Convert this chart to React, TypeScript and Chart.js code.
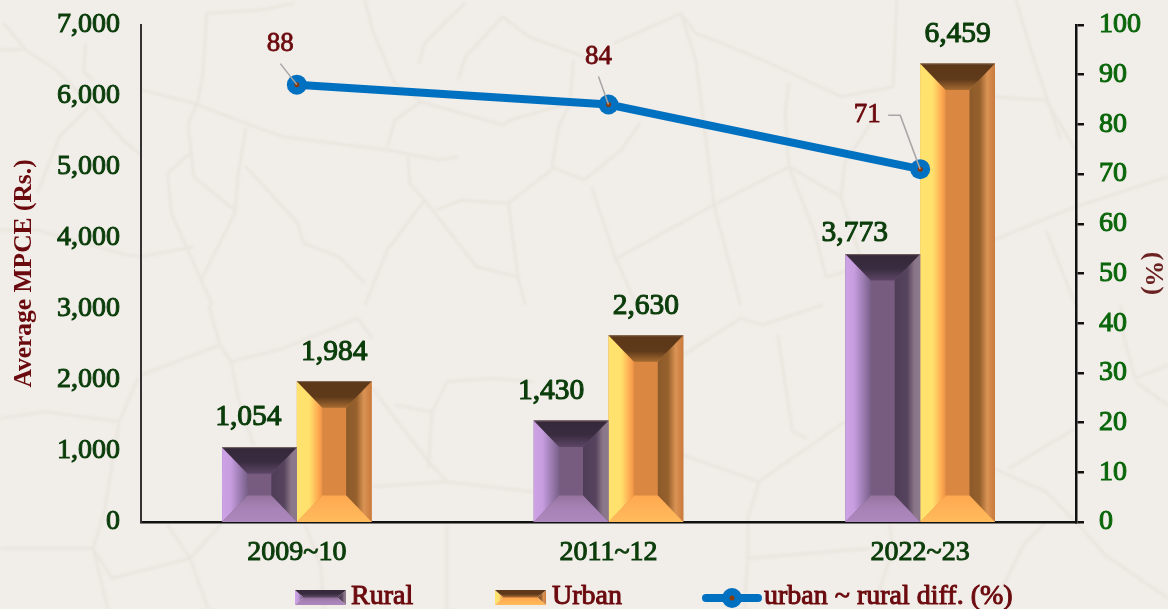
import React, { useEffect, useRef } from "react";
import { Chart, registerables } from "chart.js";

Chart.register(...registerables);

const categories = ["2009~10", "2011~12", "2022~23"];
const rural = [1054, 1430, 3773];
const urban = [1984, 2630, 6459];
const diff = [88, 84, 71];
const seriesNames = ["Rural", "Urban", "urban ~ rural diff. (%)"];

const FONT = '"Liberation Serif", serif';
const DARK_GREEN = "#0b3d0b";
const MAROON = "#6b0a0e";

type Pal = { left: [number, string][]; right: [number, string][]; top: [number, string][]; bottom: [number, string][]; center: string };
const ruralPal: Pal = {
  left: [[0, "#cda2e6"], [0.35, "#c69ddf"], [1, "#78608a"]],
  right: [[0, "#4f3d58"], [0.5, "#56445e"], [0.78, "#8c7688"], [1, "#8a7a8c"]],
  top: [[0, "#35283a"], [0.55, "#3a2c40"], [1, "#5c4666"]],
  bottom: [[0, "#96749f"], [0.5, "#a683b6"], [1, "#ad87be"]],
  center: "#785c80",
};
const urbanPal: Pal = {
  left: [[0, "#ffe36e"], [0.5, "#ffe06c"], [0.85, "#ffa850"], [1, "#e89248"]],
  right: [[0, "#8c5a2b"], [0.4, "#96602c"], [0.7, "#da9354"], [1, "#c87a3c"]],
  top: [[0, "#5c3819"], [0.6, "#5e3a1a"], [1, "#a56a30"]],
  bottom: [[0, "#ffa850"], [1, "#ffbb5c"]],
  center: "#d98741",
};

function face(ctx: CanvasRenderingContext2D, pts: number[][], g: CanvasGradient | string) {
  ctx.fillStyle = g;
  ctx.beginPath();
  pts.forEach((p, i) => (i ? ctx.lineTo(p[0], p[1]) : ctx.moveTo(p[0], p[1])));
  ctx.closePath();
  ctx.fill();
}
function grad(ctx: CanvasRenderingContext2D, x0: number, y0: number, x1: number, y1: number, stops: [number, string][]) {
  const g = ctx.createLinearGradient(x0, y0, x1, y1);
  stops.forEach(([o, c]) => g.addColorStop(o, c));
  return g;
}
function bevel(ctx: CanvasRenderingContext2D, x: number, y: number, w: number, h: number, p: Pal, dx: number, dy: number) {
  const r = x + w, b = y + h, ix = x + dx, ir = r - dx, iy = y + dy, ib = b - dy;
  face(ctx, [[ix, iy], [ir, iy], [ir, ib], [ix, ib]], p.center);
  face(ctx, [[x, y], [ix, iy], [ix, ib], [x, b]], grad(ctx, x, 0, ix, 0, p.left));
  face(ctx, [[r, y], [ir, iy], [ir, ib], [r, b]], grad(ctx, ir, 0, r, 0, p.right));
  face(ctx, [[x, b], [ix, ib], [ir, ib], [r, b]], grad(ctx, 0, ib, 0, b, p.bottom));
  face(ctx, [[x, y], [r, y], [ir, iy], [ix, iy]], grad(ctx, 0, y, 0, iy, p.top));
}
function medText(ctx: CanvasRenderingContext2D, s: string, x: number, y: number, color: string, w = 1) {
  ctx.fillStyle = color;
  ctx.strokeStyle = color;
  ctx.lineWidth = w;
  ctx.lineJoin = "round";
  ctx.strokeText(s, x, y);
  ctx.fillText(s, x, y);
}

const barNudgeX = [[-11, -20, -28], [0, 0, 0]];
const barNudgeY = [[-30, -29, -21], [-29, -29, -29]];
const leaderStart = [[-16.5, -21], [-10, -28], [-32, -54]];
const leaderElbow: (number[] | null)[] = [null, null, [-20, -54]];
const diffLabelOffset = [[-16.5, -41], [-10, -48], [-53, -54]];

const bevelPlugin = {
  id: "bevel",
  afterDatasetDraw(chart: any, args: any) {
    const pal = args.index === 0 ? ruralPal : args.index === 1 ? urbanPal : null;
    if (!pal) return;
    const ctx = chart.ctx;
    chart.getDatasetMeta(args.index).data.forEach((el: any) => {
      const w = el.width, x = el.x - w / 2, y = el.y, h = el.base - el.y;
      bevel(ctx, x, y, w, h, pal, 25.5, 26.5);
      ctx.fillStyle = "rgba(140,120,110,0.7)";
      ctx.fillRect(x, y, w, 1);
    });
  },
};

const labelsPlugin = {
  id: "labels",
  afterDatasetsDraw(chart: any) {
    const ctx = chart.ctx;
    ctx.save();
    ctx.textAlign = "center";
    ctx.textBaseline = "middle";
    [rural, urban].forEach((vals, d) => {
      chart.getDatasetMeta(d).data.forEach((el: any, i: number) => {
        ctx.font = `29.5px ${FONT}`;
        medText(ctx, vals[i].toLocaleString("en-US"), el.x + barNudgeX[d][i], el.y + barNudgeY[d][i], DARK_GREEN, 1.1);
      });
    });
    chart.getDatasetMeta(2).data.forEach((el: any, i: number) => {
      ctx.fillStyle = "#8a3a08";
      ctx.beginPath();
      ctx.arc(el.x, el.y, 2.5, 0, Math.PI * 2);
      ctx.fill();
      ctx.strokeStyle = "#a6a6a6";
      ctx.lineWidth = 1.5;
      ctx.beginPath();
      ctx.moveTo(el.x + leaderStart[i][0], el.y + leaderStart[i][1]);
      const elbow = leaderElbow[i];
      if (elbow) ctx.lineTo(el.x + elbow[0], el.y + elbow[1]);
      ctx.lineTo(el.x, el.y);
      ctx.stroke();
      ctx.font = `27px ${FONT}`;
      medText(ctx, String(diff[i]), el.x + diffLabelOffset[i][0], el.y + diffLabelOffset[i][1], MAROON, 0.8);
    });
    ctx.restore();
  },
};

const legendPlugin = {
  id: "customLegend",
  afterDraw(chart: any) {
    const ctx = chart.ctx;
    ctx.save();
    ctx.font = `28px ${FONT}`;
    ctx.textBaseline = "middle";
    ctx.textAlign = "left";
    const cy = 597;
    bevel(ctx, 295, 590, 51, 15, ruralPal, 8, 7);
    bevel(ctx, 495, 590, 51, 15, urbanPal, 8, 7);
    medText(ctx, seriesNames[0], 351, cy, MAROON);
    medText(ctx, seriesNames[1], 552, cy, MAROON);
    ctx.strokeStyle = "#0070c0";
    ctx.lineWidth = 8;
    ctx.lineCap = "round";
    ctx.beginPath();
    ctx.moveTo(706, cy + 1);
    ctx.lineTo(758, cy + 1);
    ctx.stroke();
    ctx.fillStyle = "#0070c0";
    ctx.beginPath();
    ctx.arc(732, cy + 1, 10, 0, Math.PI * 2);
    ctx.fill();
    ctx.fillStyle = "#8a3a08";
    ctx.beginPath();
    ctx.arc(732, cy + 1, 2.5, 0, Math.PI * 2);
    ctx.fill();
    medText(ctx, seriesNames[2], 764, cy, MAROON);
    ctx.restore();
  },
};

const cracksTL = [
  "M10 70 L70 150 L150 210 L250 320 L330 420 L379 465", "M0 150 L60 148", "M230 130 L225 215 L250 240",
  "M380 270 L520 310 L660 370 L760 410 L1040 450 L1180 480 L1230 470", "M555 40 L545 220 L530 310 L505 370 L520 530 L630 630",
  "M555 40 L700 30 L790 10", "M980 0 L1000 90 L1060 250 L1130 305 L1350 375 L1370 360 L1530 310",
  "M660 385 L640 520 L630 640 L540 840 L570 915", "M450 520 L510 460", "M450 520 L460 640 L540 840",
  "M660 500 L800 670 L815 730 L910 770 L980 850", "M1040 440 L1060 360 L1130 305", "M1095 470 L1100 550 L1140 600 L1280 800 L1390 830 L1410 915",
  "M1140 600 L1040 750 L980 915", "M1170 630 L1240 600 L1365 610 L1390 830", "M1365 610 L1480 510 L1500 380 L1530 310 L1540 180",
  "M1480 500 L1568 540", "M1125 190 L1140 130 L1200 60 L1250 10", "M1230 240 L1250 170 L1350 50 L1420 110 L1568 170",
  "M0 690 L100 690 L340 765 L379 770 L520 740", "M240 320 L160 410 L100 580",
];
const cracksTR = [
  "M80 130 L260 40 L300 100 L370 130 L500 190 L690 290 L830 260 L840 0", "M260 40 L300 180", "M0 540 L100 450 L150 370",
  "M20 560 L80 760 L140 915", "M300 180 L340 530 L350 620 L420 915", "M80 780 L340 620 L550 500 L690 590",
  "M550 250 L540 340 L550 500 L620 700 L650 830 L750 800 L690 590 L700 490 L770 370", "M1100 290 L1160 295 L1240 300 L1320 450",
  "M1100 720 L1320 620 L1568 530", "M1160 0 L1200 150 L1280 420", "M1240 690 L1320 915",
];
const cracksBL = [
  "M380 210 L590 120 L620 170 L760 130 L960 40 L1000 100", "M590 120 L560 0", "M620 170 L640 280 L680 420",
  "M1000 250 L1150 470 L1200 530 L1350 550 L1430 560", "M1000 545 L1200 530", "M1060 300 L1160 320 L1200 230 L1320 220 L1430 230",
  "M1160 320 L1150 490", "M1200 660 L1200 915", "M0 340 L120 320 L320 350 L280 620 L250 730 L290 915", "M320 350 L370 220",
  "M0 730 L250 730 L300 820 L510 760 L560 915", "M450 660 L510 760 L600 650", "M820 660 L860 780 L870 912",
];
const cracksBR = [
  "M265 150 L420 40 L480 60 L640 0", "M520 90 L560 380 L600 400", "M520 490 L700 350",
  "M265 450 L470 530 L440 640 L440 760 L770 730", "M470 530 L520 490", "M1100 490 L1240 560 L1320 650 L1400 750 L1568 880",
  "M1140 490 L1320 370", "M1440 0 L1450 100 L1480 220 L1568 180", "M1480 230 L1568 300", "M440 750 L430 915",
  "M820 660 L830 730 L780 900", "M1240 650 L1180 720 L1100 900",
];

function Cracks() {
  const groups: [string[], number, number][] = [
    [cracksTL, 0, 0],
    [cracksTR, 584, 0],
    [cracksBL, 0, 305],
    [cracksBR, 584, 305],
  ];
  return (
    <svg width={1168} height={609} style={{ position: "absolute", left: 0, top: 0 }}>
      <defs>
        <filter id="soft"><feGaussianBlur stdDeviation="0.9" /></filter>
      </defs>
      <g filter="url(#soft)" fill="none" stroke="#e9e5de" strokeWidth={2.6} strokeLinejoin="round">
        {groups.map(([paths, ox, oy], g) => (
          <g key={g} transform={`translate(${ox} ${oy}) scale(${584 / 1568} ${1 / 3})`}>
            {paths.map((d, i) => (
              <path key={i} d={d} vectorEffect="non-scaling-stroke" />
            ))}
          </g>
        ))}
      </g>
    </svg>
  );
}

const tickFont = { family: FONT, size: 28 };
const fixVertical = (s: any, width: number) => {
  s.width = width;
  s.paddingTop = 0;
  s.paddingBottom = 0;
};

export default function App() {
  const ref = useRef<HTMLCanvasElement>(null);
  useEffect(() => {
    const chart = new Chart(ref.current!, {
      type: "bar",
      data: {
        labels: categories,
        datasets: [
          { label: seriesNames[0], data: rural, backgroundColor: ruralPal.center, yAxisID: "y", order: 2, categoryPercentage: 0.48, barPercentage: 1 },
          { label: seriesNames[1], data: urban, backgroundColor: urbanPal.center, yAxisID: "y", order: 2, categoryPercentage: 0.48, barPercentage: 1 },
          {
            type: "line", label: seriesNames[2], data: diff, yAxisID: "y1", order: 1,
            borderColor: "#0070c0", backgroundColor: "#0070c0", borderWidth: 8,
            pointRadius: 10, pointBackgroundColor: "#0070c0", pointBorderWidth: 0, tension: 0, borderCapStyle: "round",
          },
        ],
      } as any,
      options: {
        animation: false,
        responsive: false,
        layout: { autoPadding: false, padding: { top: 25, left: 0, right: 0, bottom: 0 } },
        plugins: { legend: { display: false }, title: { display: false }, tooltip: { enabled: false } },
        scales: {
          x: {
            grid: { display: false, drawTicks: false },
            border: { display: true, color: "#111", width: 2.5 },
            ticks: { color: DARK_GREEN, font: tickFont, padding: 14, maxRotation: 0, textStrokeColor: DARK_GREEN, textStrokeWidth: 1 },
            afterFit(s: any) { s.height = 87; },
          },
          y: {
            position: "left", min: 0, max: 7000,
            grid: { display: false, drawTicks: false },
            border: { display: true, color: "#333", width: 2 },
            ticks: {
              stepSize: 1000, padding: 21, color: DARK_GREEN, font: tickFont, textStrokeColor: DARK_GREEN, textStrokeWidth: 1,
              callback: (v: any) => Number(v).toLocaleString("en-US"),
            },
            title: { display: true, text: "Average MPCE (Rs.)", color: MAROON, font: { family: FONT, size: 25.5, weight: "bold" }, padding: { top: 9, bottom: 0 } },
            afterFit(s: any) { fixVertical(s, 141); },
          },
          y1: {
            position: "right", min: 0, max: 100,
            grid: { display: true, drawOnChartArea: false, drawTicks: true, tickLength: 8, color: "#111", lineWidth: 2.5 },
            border: { display: true, color: "#111", width: 2.5 },
            ticks: { stepSize: 10, padding: 15, color: "#0a660a", font: tickFont, textStrokeColor: "#0a660a", textStrokeWidth: 1 },
            title: { display: true, text: "(%)", color: "#6b2222", font: { family: FONT, size: 26, weight: "bold" }, padding: { top: 0, bottom: 0 } },
            afterFit(s: any) { fixVertical(s, 92); },
          },
        },
      } as any,
      plugins: [bevelPlugin, labelsPlugin, legendPlugin],
    });
    return () => chart.destroy();
  }, []);
  return (
    <div style={{ position: "absolute", left: 0, top: 0, width: 1168, height: 609, background: "#f1ede8", overflow: "hidden" }}>
      <Cracks />
      <canvas ref={ref} width={1168} height={609} style={{ position: "absolute", left: 0, top: 0, display: "block" }} />
    </div>
  );
}
